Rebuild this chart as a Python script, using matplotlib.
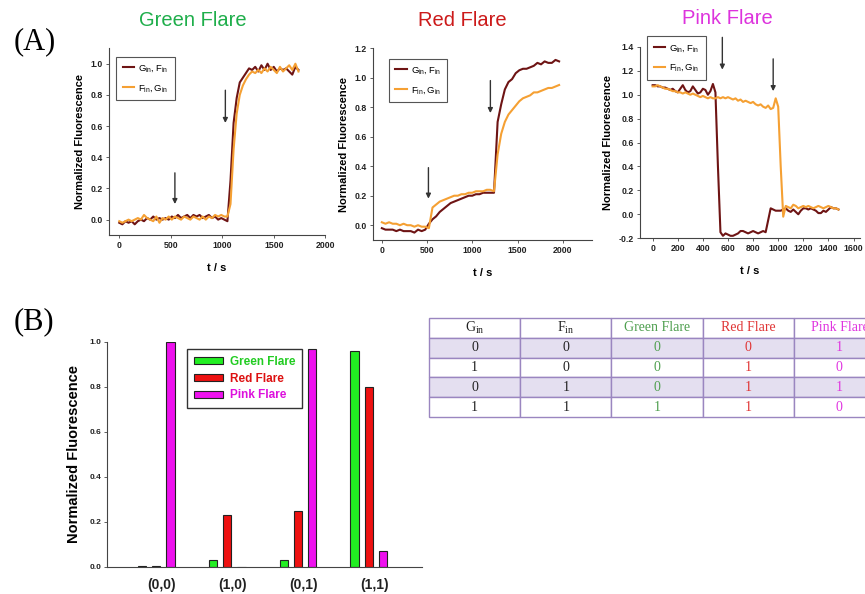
import numpy as np
import matplotlib
matplotlib.use('Agg')
import matplotlib.pyplot as plt

plt.rcParams['font.family'] = ['Liberation Sans', 'DejaVu Sans']

# ---- panel A data (time in s, normalized fluorescence) ----
t_green = np.arange(0, 1741, 30)
green_gf = [-0.02, -0.03, -0.01, -0.02, -0.01, -0.03, -0.01, 0.00, -0.01, 0.01,
            0.00, 0.02, 0.00, 0.01, 0.00, 0.01, 0.00, 0.02, 0.01, 0.03,
            0.01, 0.02, 0.03, 0.01, 0.03, 0.02, 0.03, 0.01, 0.02, 0.03,
            0.01, 0.02, 0.00, 0.01, 0.00, -0.01, 0.25, 0.62, 0.78, 0.88,
            0.91, 0.94, 0.97, 0.96, 0.98, 0.95, 0.99, 0.96, 1.00, 0.96,
            0.98, 0.95, 0.97, 0.96, 0.97, 0.95, 0.93, 0.98, 0.96]
green_fg = [-0.01, -0.02, -0.01, 0.00, -0.01, 0.00, 0.01, 0.00, 0.03, 0.01,
            0.00, -0.01, 0.02, -0.02, 0.01, 0.00, 0.02, 0.00, 0.02, 0.01,
            0.00, 0.02, 0.01, 0.00, 0.02, 0.01, 0.00, 0.02, 0.00, 0.02,
            0.01, 0.03, 0.02, 0.03, 0.02, 0.02, 0.10, 0.45, 0.68, 0.80,
            0.86, 0.90, 0.93, 0.95, 0.94, 0.96, 0.94, 0.97, 0.95, 0.98,
            0.96, 0.94, 0.98, 0.95, 0.97, 0.99, 0.96, 1.00, 0.95]

t_red = np.arange(0, 1961, 40)
red_gf = [-0.02, -0.03, -0.03, -0.03, -0.04, -0.03, -0.04, -0.04, -0.04, -0.05,
          -0.03, -0.04, -0.03, 0.01, 0.04, 0.06, 0.09, 0.11, 0.13, 0.15,
          0.16, 0.17, 0.18, 0.19, 0.20, 0.20, 0.21, 0.21, 0.22, 0.22,
          0.22, 0.22, 0.70, 0.82, 0.92, 0.97, 0.99, 1.03, 1.05, 1.06,
          1.06, 1.07, 1.08, 1.10, 1.09, 1.11, 1.10, 1.10, 1.12, 1.11]
red_fg = [0.02, 0.01, 0.02, 0.01, 0.01, 0.00, 0.01, 0.00, 0.00, -0.01,
          0.00, -0.01, -0.01, -0.02, 0.12, 0.14, 0.16, 0.17, 0.18, 0.19,
          0.20, 0.20, 0.21, 0.21, 0.22, 0.22, 0.23, 0.23, 0.23, 0.24,
          0.24, 0.23, 0.48, 0.62, 0.70, 0.75, 0.78, 0.81, 0.84, 0.86,
          0.87, 0.88, 0.90, 0.90, 0.91, 0.92, 0.93, 0.93, 0.94, 0.95]

t_pink = np.arange(0, 1481, 20)
pink_gf = [1.08, 1.08, 1.07, 1.07, 1.06, 1.06, 1.05, 1.04, 1.05, 1.03,
           1.02, 1.05, 1.08, 1.04, 1.02, 1.03, 1.07, 1.04, 1.01, 1.02,
           1.05, 1.04, 1.00, 1.03, 1.09, 1.02, 0.40, -0.15, -0.18, -0.16,
           -0.17, -0.18, -0.18, -0.17, -0.16, -0.14, -0.14, -0.15, -0.16, -0.15,
           -0.14, -0.15, -0.16, -0.15, -0.14, -0.15, -0.05, 0.05, 0.04, 0.03,
           0.03, 0.03, 0.04, 0.05, 0.03, 0.02, 0.04, 0.02, 0.00, 0.03,
           0.05, 0.05, 0.04, 0.05, 0.04, 0.03, 0.01, 0.01, 0.03, 0.02,
           0.04, 0.06, 0.05, 0.05, 0.04]
pink_fg = [1.07, 1.07, 1.08, 1.07, 1.06, 1.05, 1.05, 1.04, 1.03, 1.03,
           1.02, 1.02, 1.01, 1.02, 1.01, 1.00, 1.01, 1.00, 0.99, 0.98,
           0.99, 0.98, 0.97, 0.98, 0.97, 0.97, 0.98, 0.97, 0.98, 0.97,
           0.98, 0.97, 0.96, 0.97, 0.95, 0.96, 0.94, 0.95, 0.94, 0.93,
           0.94, 0.92, 0.91, 0.92, 0.90, 0.89, 0.91, 0.88, 0.89, 0.97,
           0.90, 0.40, -0.02, 0.07, 0.06, 0.05, 0.08, 0.07, 0.05, 0.06,
           0.07, 0.06, 0.07, 0.06, 0.05, 0.06, 0.07, 0.06, 0.05, 0.06,
           0.07, 0.06, 0.05, 0.05, 0.04]

# arrow positions: (t, tail, tip)
green_arrows = [(540, 0.30, 0.10), (1030, 0.83, 0.62)]
red_arrows = [(515, 0.39, 0.18), (1200, 0.98, 0.76)]
pink_arrows = [(555, 1.48, 1.21), (960, 1.30, 1.03)]

# ---- panel B data ----
groups = ['(0,0)', '(1,0)', '(0,1)', '(1,1)']
bar_green = [0.005, 0.03, 0.03, 0.96]
bar_red = [0.004, 0.23, 0.25, 0.80]
bar_pink = [1.00, 0.002, 0.97, 0.07]

# ---- truth table ----
table_header = [r'$\mathregular{G_{in}}$', r'$\mathregular{F_{in}}$', 'Green Flare', 'Red Flare', 'Pink Flare']
table_rows = [['0', '0', '0', '0', '1'],
              ['1', '0', '0', '1', '0'],
              ['0', '1', '0', '1', '1'],
              ['1', '1', '1', '1', '0']]

c_dark = '#6e1414'
c_orange = '#f5a033'
lab_gf = r'$\mathregular{G_{in},F_{in}}$'
lab_fg = r'$\mathregular{F_{in},G_{in}}$'

fig = plt.figure(figsize=(8.65, 5.94), dpi=100)


def style_axes(ax, tick_size=6.3):
    for s in ['top', 'right']:
        ax.spines[s].set_visible(False)
    for s in ['left', 'bottom']:
        ax.spines[s].set_color('#444444')
        ax.spines[s].set_linewidth(0.8)
    ax.tick_params(direction='out', length=2.5, width=0.6, colors='#444444',
                   labelsize=tick_size, labelcolor='#222222', pad=2)
    for lb in ax.get_xticklabels() + ax.get_yticklabels():
        lb.set_fontweight('bold')


def panel_a(rect, t1, y1, t2, y2, xlim, ylim, xticks, yticks, arrows, leg_anchor):
    ax = fig.add_axes(rect)
    ax.plot(t1, y1, color=c_dark, lw=1.5, label=lab_gf)
    ax.plot(t2, y2, color=c_orange, lw=1.5, label=lab_fg)
    ax.set_xlim(xlim)
    ax.set_ylim(ylim)
    ax.set_xticks(xticks)
    ax.set_yticks(yticks)
    ax.set_yticklabels(['%.1f' % v for v in yticks])
    style_axes(ax)
    ax.set_xlabel('t / s', fontsize=8, fontweight='bold', labelpad=9)
    ax.set_ylabel('Normalized Fluorescence', fontsize=8, fontweight='bold', labelpad=4)
    for x, tail, tip in arrows:
        ax.annotate('', xy=(x, tip), xytext=(x, tail), annotation_clip=False,
                    arrowprops=dict(arrowstyle='-|>', color='#333333', lw=1.0,
                                    mutation_scale=7, shrinkA=0, shrinkB=0))
    leg = ax.legend(loc='upper left', bbox_to_anchor=leg_anchor, fontsize=6.8,
                    frameon=True, fancybox=False, framealpha=1, edgecolor='#555555',
                    handlelength=1.2, handletextpad=0.4, labelspacing=0.9,
                    borderpad=0.7, borderaxespad=0.3)
    leg.get_frame().set_linewidth(0.8)
    return ax


panel_a([0.126, 0.604, 0.250, 0.315], t_green, green_gf, t_green, green_fg,
        (-100, 2000), (-0.1, 1.1), [0, 500, 1000, 1500, 2000],
        [0.0, 0.2, 0.4, 0.6, 0.8, 1.0], green_arrows, (0.02, 0.97))
panel_a([0.431, 0.596, 0.253, 0.323], t_red, red_gf, t_red, red_fg,
        (-100, 2320), (-0.1, 1.2), [0, 500, 1000, 1500, 2000],
        [0.0, 0.2, 0.4, 0.6, 0.8, 1.0, 1.2], red_arrows, (0.06, 0.96))
panel_a([0.740, 0.599, 0.254, 0.322], t_pink, pink_gf, t_pink, pink_fg,
        (-100, 1650), (-0.2, 1.4), [0, 200, 400, 600, 800, 1000, 1200, 1400, 1600],
        [-0.2, 0.0, 0.2, 0.4, 0.6, 0.8, 1.0, 1.2, 1.4], pink_arrows, (0.02, 1.07))

fig.text(193 / 865, 1 - 20 / 594, 'Green Flare', color='#1fae4b', fontsize=14.5, ha='center', va='center')
fig.text(462 / 865, 1 - 20 / 594, 'Red Flare', color='#cc1a1a', fontsize=14.5, ha='center', va='center')
fig.text(727 / 865, 1 - 18 / 594, 'Pink Flare', color='#dd33dd', fontsize=14.5, ha='center', va='center')
fig.text(14 / 865, 1 - 42 / 594, '(A)', fontsize=22, family='Liberation Serif', va='center')
fig.text(14 / 865, 1 - 322 / 594, '(B)', fontsize=22, family='Liberation Serif', va='center')

# ---- panel B bars ----
axb = fig.add_axes([0.124, 0.0455, 0.364, 0.379])
x = np.arange(len(groups))
w = 0.12
off = 0.2
axb.bar(x - off, bar_green, w, color='#22ee22', edgecolor='#222222', lw=0.8, label='Green Flare')
axb.bar(x, bar_red, w, color='#ee1111', edgecolor='#222222', lw=0.8, label='Red Flare')
axb.bar(x + off, bar_pink, w, color='#ee11ee', edgecolor='#222222', lw=0.8, label='Pink Flare')
axb.set_xlim(-0.69, 3.75)
axb.set_ylim(0, 1.0)
axb.set_xticks(x + 0.08)
axb.set_xticklabels(groups)
axb.set_yticks([0.0, 0.2, 0.4, 0.6, 0.8, 1.0])
axb.set_yticklabels(['0.0', '0.2', '0.4', '0.6', '0.8', '1.0'])
style_axes(axb, tick_size=6)
axb.tick_params(axis='x', length=0, labelsize=10, pad=8)
for lb in axb.get_xticklabels():
    lb.set_fontweight('bold')
axb.set_ylabel('Normalized Fluorescence', fontsize=10.5, fontweight='bold', labelpad=6)
legb = axb.legend(loc='upper left', bbox_to_anchor=(0.235, 0.995), fontsize=8.5,
                  frameon=True, fancybox=False, framealpha=1, edgecolor='#333333',
                  handlelength=2.4, handleheight=0.55, handletextpad=0.6,
                  labelspacing=0.4, borderpad=0.6)
legb.get_frame().set_linewidth(1.0)
for txt, col in zip(legb.get_texts(), ['#22cc22', '#dd1111', '#dd11dd']):
    txt.set_color(col)
    txt.set_fontweight('semibold')

# ---- truth table ----
axt = fig.add_axes([429 / 865, 177 / 594, 456 / 865, 99 / 594])
axt.axis('off')
col_colors = ['#222222', '#222222', '#4f9f4f', '#e03535', '#e035e0']
tbl = axt.table(cellText=[table_header] + table_rows, cellLoc='center', bbox=[0, 0, 1, 1])
tbl.auto_set_font_size(False)
for (r, c), cell in tbl.get_celld().items():
    cell.set_edgecolor('#9a86c0')
    cell.set_linewidth(1.0)
    cell.set_facecolor('#e4dff0' if r in (1, 3) else 'white')
    cell.get_text().set_color(col_colors[c])
    cell.get_text().set_fontfamily('Liberation Serif')
    cell.get_text().set_fontsize(10)

fig.savefig('out.png', dpi=100)
